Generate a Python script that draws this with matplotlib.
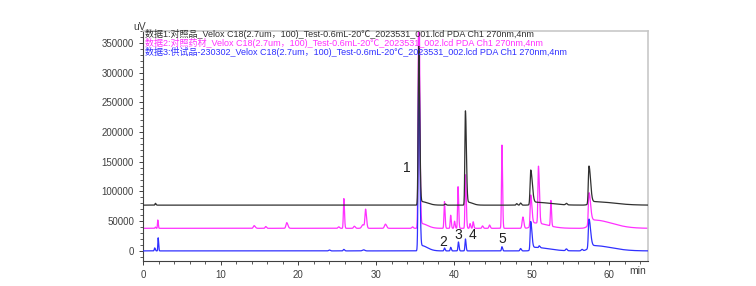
import numpy as np
import matplotlib.pyplot as plt
from matplotlib.ticker import MultipleLocator

plt.rcParams['font.family'] = ['Liberation Sans', 'Noto Sans CJK SC', 'DejaVu Sans']

# legend lines (data file names)
names = [
    '数据1:对照品_Velox C18(2.7um，100)_Test-0.6mL-20℃_2023531_001.lcd PDA Ch1 270nm,4nm',
    '数据2:对照药材_Velox C18(2.7um，100)_Test-0.6mL-20℃_2023531_002.lcd PDA Ch1 270nm,4nm',
    '数据3:供试品-230302_Velox C18(2.7um，100)_Test-0.6mL-20℃_2023531_002.lcd PDA Ch1 270nm,4nm',
]
colors = ['#303030', '#ff30ff', '#3030ff']
baselines = [77000, 38000, 0]

# peak tables: (time min, height uV, left width, right width)
black_peaks = [
    (1.6, 3000, 0.05, 0.08), (35.5, 265000, 0.08, 0.12), (35.8, 6000, 0.2, 0.8),
    (38.9, 2000, 0.08, 0.1), (41.5, 157000, 0.07, 0.12), (41.8, 5000, 0.2, 0.6),
    (48.1, 2500, 0.08, 0.1), (48.6, 3500, 0.08, 0.1), (49.9, 57000, 0.08, 0.2),
    (50.3, 5000, 0.3, 2.0), (54.5, 2500, 0.1, 0.1), (57.4, 63000, 0.08, 0.2),
    (57.9, 6000, 0.4, 2.5),
]
pink_peaks = [
    (1.6, 2000, 0.05, 0.05), (1.9, 14000, 0.04, 0.06), (14.3, 4500, 0.1, 0.15),
    (15.8, 3000, 0.08, 0.1), (18.5, 9500, 0.1, 0.15), (25.2, 2500, 0.1, 0.1),
    (25.85, 50000, 0.06, 0.08), (27.2, 3500, 0.1, 0.12), (28.3, 6000, 0.15, 0.2),
    (28.65, 31000, 0.08, 0.12), (31.2, 7000, 0.12, 0.15), (34.7, 2500, 0.1, 0.1),
    (35.5, 420000, 0.08, 0.12), (35.8, 8000, 0.2, 0.8), (38.8, 45000, 0.06, 0.08),
    (39.6, 22000, 0.06, 0.08), (40.1, 12000, 0.06, 0.08), (40.55, 70000, 0.06, 0.08),
    (41.5, 90000, 0.06, 0.1), (42.1, 8000, 0.06, 0.08), (42.5, 11000, 0.06, 0.08),
    (43.7, 4000, 0.08, 0.1), (44.6, 5500, 0.08, 0.1), (46.2, 140000, 0.06, 0.08),
    (48.9, 19000, 0.1, 0.12), (49.9, 52000, 0.07, 0.15), (50.4, 9000, 0.4, 1.6),
    (50.9, 96000, 0.07, 0.12), (52.5, 43000, 0.06, 0.08), (57.4, 53000, 0.08, 0.2),
    (58.0, 14000, 0.5, 2.3),
]
blue_peaks = [
    (1.5, 5000, 0.05, 0.08), (1.95, 22000, 0.04, 0.06), (24.0, 1500, 0.1, 0.1),
    (25.85, 2500, 0.08, 0.1), (28.4, 1800, 0.15, 0.15), (35.5, 320000, 0.08, 0.12),
    (35.8, 9000, 0.2, 0.8), (38.8, 5000, 0.06, 0.08), (39.6, 6000, 0.06, 0.08),
    (40.6, 15000, 0.06, 0.08), (41.5, 20000, 0.06, 0.08), (46.2, 7000, 0.06, 0.08),
    (48.6, 4000, 0.08, 0.1), (49.9, 47000, 0.07, 0.15), (50.3, 6000, 0.3, 1.8),
    (51.0, 3000, 0.06, 0.1), (54.5, 3000, 0.1, 0.1), (56.5, 2500, 0.1, 0.1),
    (57.4, 48000, 0.08, 0.2), (57.9, 9000, 0.5, 2.3),
]
all_peaks = [black_peaks, pink_peaks, blue_peaks]

# numbered peak labels
label_txt = ['1', '2', '3', '4', '5']
label_t = [34.0, 38.7, 40.6, 42.4, 46.2]
label_y = [140000, 15700, 27000, 27000, 20000]

t = np.linspace(0, 65, 6501)


def trace(base, peaks):
    y = np.full_like(t, float(base))
    for t0, h, wl, wr in peaks:
        w = np.where(t < t0, wl, wr)
        y += h * np.exp(-0.5 * ((t - t0) / w) ** 2)
    return y


fig = plt.figure(figsize=(7.56, 2.86), dpi=100)
ax = fig.add_axes([143 / 756, 25 / 286, 505 / 756, 230 / 286])

order = [1, 2, 0]
for i in order:
    ax.plot(t, trace(baselines[i], all_peaks[i]), color=colors[i], lw=0.9, zorder=2 + order.index(i))

ax.set_xlim(0, 65)
ax.set_ylim(-17000, 370000)
ax.xaxis.set_major_locator(MultipleLocator(10))
ax.xaxis.set_minor_locator(MultipleLocator(2))
ax.yaxis.set_major_locator(MultipleLocator(50000))
ax.yaxis.set_minor_locator(MultipleLocator(10000))
ax.set_xticks(range(0, 61, 10))
ax.tick_params(labelsize=7, colors='#404040', length=3, width=0.7)
ax.tick_params(which='minor', length=2, width=0.6, colors='#404040')
for s in ['left', 'bottom']:
    ax.spines[s].set_color('#404040')
    ax.spines[s].set_linewidth(0.8)
for s in ['top', 'right']:
    ax.spines[s].set_color('#c8c8c8')
    ax.spines[s].set_linewidth(1.2)

for txt, x, y in zip(label_txt, label_t, label_y):
    ax.text(x, y, txt, fontsize=10, ha='center', va='center', color='#202020', zorder=10)

for k, (nm, c) in enumerate(zip(names, colors)):
    fig.text(145 / 756, 1 - (34 + 9.2 * k) / 286, nm, color=c, fontsize=6.5, ha='left', va='center')

fig.text(140 / 756, 1 - 26.5 / 286, 'uV', fontsize=7.5, color='#404040', ha='center', va='center')
fig.text(638 / 756, 1 - 271 / 286, 'min', fontsize=7.5, color='#404040', ha='center', va='center')

fig.savefig('out.png', dpi=100)
